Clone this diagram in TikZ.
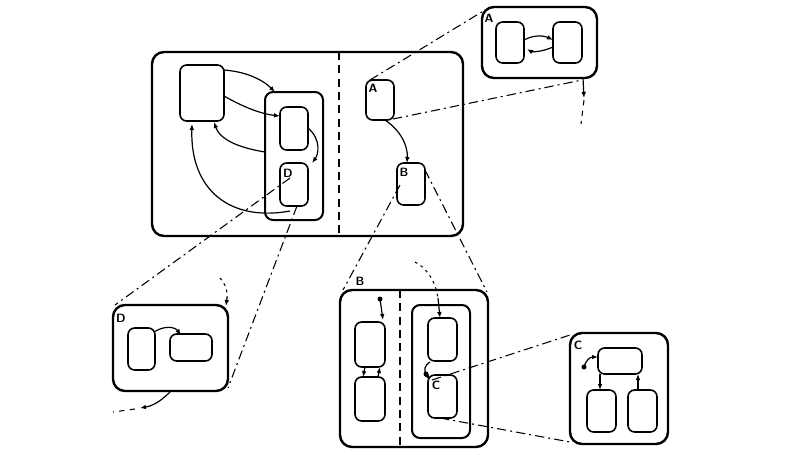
\documentclass[tikz,border=0pt]{standalone}
\usetikzlibrary{arrows.meta}
\begin{document}
\begin{tikzpicture}[x=0.75pt,y=-0.75pt,
  st/.style={draw,line width=1.2pt,rounded corners=5pt},
  big/.style={draw,line width=1.8pt,rounded corners=9pt},
  ar/.style={line width=0.9pt,-{Latex[length=4.5pt,width=3.5pt]}},
  dd/.style={line width=0.8pt,dash pattern=on 7pt off 3pt on 1.5pt off 3pt},
  lab/.style={font=\sffamily\bfseries\small,inner sep=0pt}]
\useasboundingbox (0,0) rectangle (800,454);
% main
\draw[big] (152,52) rectangle (463,236);
\draw[line width=1.3pt,dash pattern=on 6pt off 4pt] (339,52) -- (339,236);
\draw[st] (180,65) rectangle (224,121);
\draw[big,line width=1.5pt,rounded corners=6pt] (265,92) rectangle (323,220);
\draw[st] (280,107) rectangle (308,150);
\draw[st] (280,163) rectangle (308,206);
\node[lab] at (288,173) {D};
\draw[st] (366,80) rectangle (394,120);
\node[lab] at (373,88) {A};
\draw[st] (397,163) rectangle (425,205);
\node[lab] at (404,172) {B};
\draw[ar] (224,70) .. controls (250,72) and (265,82) .. (275,92);
\draw[ar] (224,96) .. controls (245,108) and (262,114) .. (280,116);
\draw[ar] (265,152) .. controls (240,148) and (220,140) .. (214,122);
\draw[ar] (290,211) .. controls (230,222) and (190,190) .. (192,124);
\draw[ar] (308,128) .. controls (322,140) and (318,155) .. (312,163);
\draw[ar] (385,120) .. controls (400,130) and (408,145) .. (407,163);
% A zoom
\draw[big] (482,7) rectangle (597,78);
\node[lab] at (489,18) {A};
\draw[st] (496,22) rectangle (524,63);
\draw[st] (553,22) rectangle (582,63);
\draw[ar] (524,40) .. controls (535,34) and (545,36) .. (553,40);
\draw[ar] (553,47) .. controls (542,52) and (532,52) .. (527,49);
\draw[dd] (370,80) -- (485,10);
\draw[dd] (393,119) -- (582,80);
\draw[ar] (583,78) -- (584,98);
\draw[line width=0.8pt,dash pattern=on 4pt off 4pt] (584,100) -- (581,124);
% B zoom
\draw[big] (340,290) rectangle (488,447);
\node[lab] at (360,281) {B};
\draw[line width=1.3pt,dash pattern=on 6pt off 4pt] (400,290) -- (400,447);
\draw[big,line width=1.5pt,rounded corners=6pt] (412,305) rectangle (470,438);
\draw[st] (355,322) rectangle (385,367);
\draw[st] (355,377) rectangle (385,421);
\draw[st] (428,318) rectangle (457,361);
\draw[st] (428,375) rectangle (457,418);
\node[lab] at (436,385) {C};
\fill (380,299) circle (2.5);
\draw[ar] (380,299) -- (383,320);
\draw[ar] (365,367) -- (363,377);
\draw[ar] (378,377) -- (380,367);
\draw[dd] (400,185) -- (343,290);
\draw[dd] (425,170) -- (487,292);
\draw[line width=0.8pt,dash pattern=on 2pt off 3pt] (415,262) .. controls (430,270) and (436,285) .. (438,298);
\draw[ar] (438,298) -- (440,318);
\draw[line width=0.9pt] (430,362) .. controls (424,366) and (424,370) .. (426,374);
\fill (426,374) circle (2.5);
\draw[ar] (426,374) -- (430,380);
% C zoom
\draw[big] (570,333) rectangle (668,444);
\node[lab] at (578,345) {C};
\draw[st] (598,348) rectangle (642,374);
\draw[st] (587,390) rectangle (616,432);
\draw[st] (628,390) rectangle (657,432);
\fill (584,367) circle (2.5);
\draw[ar] (584,367) .. controls (586,360) and (590,357) .. (598,357);
\draw[ar] (600,374) -- (600,390);
\draw[ar] (638,390) -- (638,374);
\draw[dd] (432,380) -- (570,335);
\draw[dd] (440,418) -- (570,442);
% D zoom
\draw[big] (113,305) rectangle (228,391);
\node[lab] at (121,318) {D};
\draw[st] (128,328) rectangle (155,370);
\draw[st] (170,334) rectangle (212,361);
\draw[ar] (154,332) .. controls (165,325) and (175,327) .. (181,335);
\draw[dd] (290,178) -- (115,305);
\draw[dd] (297,206) -- (228,388);
\draw[line width=0.8pt,dash pattern=on 2pt off 3pt] (220,278) .. controls (226,285) and (228,292) .. (227,298);
\draw[ar] (227,298) -- (226,306);
\draw[ar] (170,392) .. controls (160,402) and (152,406) .. (140,408);
\draw[line width=0.8pt,dash pattern=on 4pt off 4pt] (135,409) -- (113,412);
\end{tikzpicture}
\end{document}
